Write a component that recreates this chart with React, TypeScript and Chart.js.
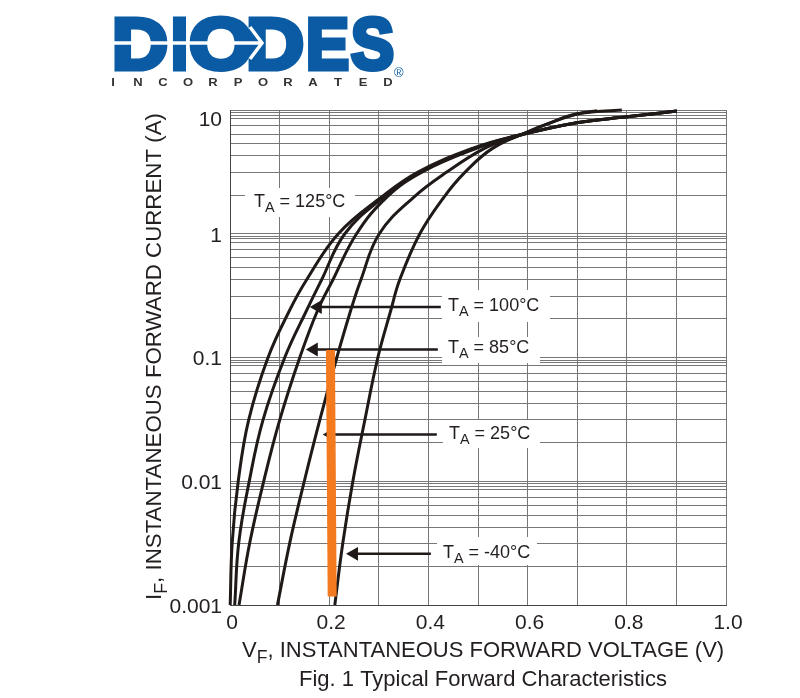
import React, { useEffect, useRef } from 'react';
import { Chart, registerables } from 'chart.js';

Chart.register(...registerables);

const FONT = '"Liberation Sans", Arial, sans-serif';
const INK = '#231f1e';

// curves, V in volts and I in amps
const curve125V = [0.0004, 0.0044, 0.0166, 0.0377, 0.0767, 0.1205, 0.1542, 0.2184, 0.3056, 0.379, 0.49, 0.57, 0.699, 0.8, 0.901];
const curve125I = [0.001, 0.00318, 0.01, 0.0313, 0.1, 0.242, 0.423, 1, 1.98, 3.15, 4.92, 6.1, 7.88, 8.81, 9.8];
const curve100V = [0.0095, 0.0176, 0.0388, 0.0666, 0.1104, 0.1548, 0.1845, 0.2315, 0.31, 0.383, 0.494, 0.572, 0.699, 0.8, 0.901];
const curve100I = [0.001, 0.00318, 0.01, 0.0313, 0.1, 0.242, 0.423, 1, 1.98, 3.15, 4.92, 6.1, 7.88, 8.81, 9.8];
const curve85V = [0.0182, 0.0398, 0.068, 0.1003, 0.1407, 0.177, 0.2073, 0.2552, 0.3163, 0.387, 0.498, 0.574, 0.699, 0.8, 0.901];
const curve85I = [0.001, 0.00318, 0.01, 0.0313, 0.1, 0.242, 0.423, 1, 1.98, 3.15, 4.92, 6.1, 7.88, 8.81, 9.8];
const curve25V = [0.0957, 0.1205, 0.1498, 0.1811, 0.2154, 0.2436, 0.2638, 0.301, 0.3708, 0.437, 0.514, 0.5747, 0.6387, 0.6992, 0.79];
const curve25I = [0.001, 0.00318, 0.01, 0.0313, 0.1, 0.242, 0.423, 1, 1.98, 3.15, 4.92, 6.04, 7.69, 9.27, 10];
const curveM40V = [0.2113, 0.2275, 0.2477, 0.2719, 0.2981, 0.3244, 0.342, 0.3827, 0.4314, 0.474, 0.53, 0.605, 0.6387, 0.6992, 0.74];
const curveM40I = [0.001, 0.00318, 0.01, 0.0313, 0.1, 0.242, 0.423, 1, 1.98, 3.15, 4.92, 6.79, 7.69, 9.27, 9.85];

// orange marker bar
const markerV = [0.2025, 0.206];
const markerI = [0.115, 0.00117];

// arrows: shaft from label to curve, then the head position
const arrowShaftV = [[0.183, 0.425], [0.175, 0.419], [0.193, 0.417], [0.258, 0.405]];
const arrowHeadV = [0.177, 0.169, 0.195, 0.25];
const arrowI = [0.256, 0.116, 0.0239, 0.00259];

// the printed grid is not a true log grid, each decade has these lines
const gridMultipliers = [1, 2.05, 3.13, 4.26, 5.32, 6.37, 7.44, 8.55, 9.07, 9.53];
const decades = [0.001, 0.01, 0.1, 1];
const yGridValues = [...decades.flatMap((d) => gridMultipliers.map((m) => d * m)), 10];

// the "10" sits on the line just under the top bundle, like in the original
const yLabelValues = [0.001, 0.01, 0.1, 1, 8.55];
const yLabels = ['0.001', '0.01', '0.1', '1', '10'];
const xTickLabels = ['0', '', '0.2', '', '0.4', '', '0.6', '', '0.8', '', '1.0'];

const tempLabels = ['= 125°C', '= 100°C', '= 85°C', '= 25°C', '= -40°C'];
const logoLetters = ['D', 'I', 'O', 'D', 'E', 'S'];
const incLetters = ['I', 'N', 'C', 'O', 'R', 'P', 'O', 'R', 'A', 'T', 'E', 'D'];

const toPoints = (v: number[], i: number[]) => v.map((x, k) => ({ x, y: i[k] }));

const curve = (label: string, v: number[], i: number[]) => ({
    label,
    data: toPoints(v, i),
    borderColor: '#1f1a18',
    borderWidth: 3,
    pointRadius: 0,
    tension: 0.4,
    clip: false as any,
    order: 3,
});

// label boxes that blank out the grid: x, y, w, h
const labelBoxes = [
    [245, 188, 110, 29],
    [442, 290, 108, 32],
    [442, 337, 98, 26],
    [443, 420, 97, 28],
    [437, 537, 100, 28],
];
const labelSpots = [
    [254, 202],
    [448, 306],
    [448, 348],
    [449, 434],
    [443, 553],
];

// letter left edge and width of the logo
const logoBoxes = [
    [112, 56],
    [171, 17],
    [189, 64],
    [246, 58],
    [306, 43],
    [351, 43],
];

// text with a subscript after the first letter, e.g. T A
function subText(ctx: CanvasRenderingContext2D, main: string, sub: string, rest: string, x: number, y: number, size: number) {
    ctx.textAlign = 'left';
    ctx.textBaseline = 'middle';
    ctx.font = `${size}px ${FONT}`;
    ctx.fillText(main, x, y);
    let cx = x + ctx.measureText(main).width;
    ctx.font = `${size * 0.8}px ${FONT}`;
    ctx.fillText(sub, cx, y + size * 0.33);
    cx += ctx.measureText(sub).width;
    ctx.font = `${size}px ${FONT}`;
    ctx.fillText(rest, cx, y);
}

const sheetPlugin = {
    id: 'sheet',
    beforeDatasetsDraw(chart: any) {
        const { ctx } = chart;
        ctx.save();
        ctx.fillStyle = '#fff';
        labelBoxes.forEach(([x, y, w, h]) => ctx.fillRect(x, y, w, h));
        ctx.restore();
    },
    afterDraw(chart: any) {
        const { ctx } = chart;
        ctx.save();
        ctx.fillStyle = INK;

        labelSpots.forEach(([x, y], k) => subText(ctx, 'T', 'A', ' ' + tempLabels[k], x, y, 18));

        // axis titles and caption
        subText(ctx, 'V', 'F', ', INSTANTANEOUS FORWARD VOLTAGE (V)', 242, 651, 22);
        ctx.save();
        ctx.translate(155, 600);
        ctx.rotate(-Math.PI / 2);
        subText(ctx, 'I', 'F', ', INSTANTANEOUS FORWARD CURRENT (A)', 0, 0, 22.3);
        ctx.restore();
        ctx.textAlign = 'center';
        ctx.font = `22px ${FONT}`;
        ctx.fillText('Fig. 1 Typical Forward Characteristics', 483, 680);

        // logo
        ctx.fillStyle = '#0a5ba3';
        ctx.strokeStyle = '#0a5ba3';
        ctx.lineWidth = 5;
        ctx.lineJoin = 'miter';
        ctx.textAlign = 'left';
        ctx.textBaseline = 'alphabetic';
        ctx.font = `bold 72px ${FONT}`;
        logoLetters.forEach((ch, k) => {
            const [x, w] = logoBoxes[k];
            ctx.save();
            ctx.translate(x, 69);
            ctx.scale(w / ctx.measureText(ch).width, 1);
            ctx.fillText(ch, 0, 0);
            ctx.strokeText(ch, 0, 0);
            ctx.restore();
        });
        ctx.strokeStyle = '#fff';
        ctx.lineWidth = 3.5;
        ctx.beginPath();
        ctx.moveTo(108, 43);
        ctx.lineTo(262, 43);
        ctx.moveTo(250, 27);
        ctx.lineTo(262, 43);
        ctx.lineTo(250, 59);
        ctx.stroke();
        ctx.font = `13px ${FONT}`;
        ctx.fillText('®', 394, 77);
        ctx.fillStyle = '#333';
        ctx.font = `bold 10px ${FONT}`;
        ctx.textAlign = 'center';
        incLetters.forEach((ch, k) => {
            ctx.save();
            ctx.translate(113 + k * 25, 86);
            ctx.scale(1.3, 1);
            ctx.fillText(ch, 0, 0);
            ctx.restore();
        });
        ctx.restore();
    },
};

const App: React.FC = () => {
    const chartRef = useRef<HTMLCanvasElement>(null);

    useEffect(() => {
        if (!chartRef.current) return;
        const shafts = arrowShaftV.map((v, k) => ({
            label: 'arrow' + k,
            data: toPoints(v, [arrowI[k], arrowI[k]]),
            borderColor: '#1f1a18',
            borderWidth: 2.5,
            pointRadius: 0,
            order: 2,
        }));
        const heads = arrowHeadV.map((v, k) => ({
            label: 'head' + k,
            data: [{ x: v, y: arrowI[k] }],
            showLine: false,
            pointStyle: 'triangle',
            pointRotation: -90,
            pointRadius: k === 2 ? 4 : 8,
            pointBackgroundColor: '#1f1a18',
            pointBorderWidth: 0,
            order: 2,
        }));
        const myChart = new Chart(chartRef.current, {
            type: 'line',
            data: {
                datasets: [
                    curve('125', curve125V, curve125I),
                    curve('100', curve100V, curve100I),
                    curve('85', curve85V, curve85I),
                    curve('25', curve25V, curve25I),
                    curve('-40', curveM40V, curveM40I),
                    ...shafts,
                    {
                        label: 'marker',
                        data: toPoints(markerV, markerI),
                        borderColor: '#f47a20',
                        borderWidth: 9,
                        pointRadius: 0,
                        order: 1,
                    },
                    ...heads,
                ] as any,
            },
            options: {
                responsive: false,
                animation: false,
                events: [],
                layout: { padding: { top: 110, right: 74, left: 0, bottom: 0 } },
                plugins: { legend: { display: false }, tooltip: { enabled: false } },
                scales: {
                    x: {
                        type: 'linear',
                        min: 0,
                        max: 1,
                        afterFit: (scale: any) => {
                            scale.height = 93;
                        },
                        border: { color: '#444' },
                        grid: { color: '#777', drawTicks: false },
                        ticks: {
                            stepSize: 0.1,
                            autoSkip: false,
                            maxRotation: 0,
                            padding: 6,
                            labelOffset: 2,
                            color: INK,
                            font: { family: FONT, size: 21 },
                            callback: (_v: any, i: number) => xTickLabels[i],
                        },
                    },
                    y: {
                        type: 'logarithmic',
                        min: 0.001,
                        max: 10,
                        afterFit: (scale: any) => {
                            scale.width = 230;
                        },
                        afterBuildTicks: (scale: any) => {
                            scale.ticks = yGridValues.map((value) => ({ value }));
                        },
                        border: { color: '#444' },
                        grid: { color: '#777', drawTicks: false },
                        ticks: {
                            autoSkip: false,
                            padding: 8,
                            labelOffset: 2,
                            color: INK,
                            font: { family: FONT, size: 21 },
                            callback: (v: any) => {
                                const k = yLabelValues.indexOf(v);
                                return k >= 0 ? yLabels[k] : '';
                            },
                        },
                    },
                },
            },
            plugins: [sheetPlugin],
        } as any);

        return () => {
            myChart.destroy();
        };
    }, []);

    return (
        <div style={{ position: 'absolute', left: 0, top: 0, width: 800, height: 698, background: '#fff' }}>
            <canvas ref={chartRef} width={800} height={698}></canvas>
        </div>
    );
};

export default App;
